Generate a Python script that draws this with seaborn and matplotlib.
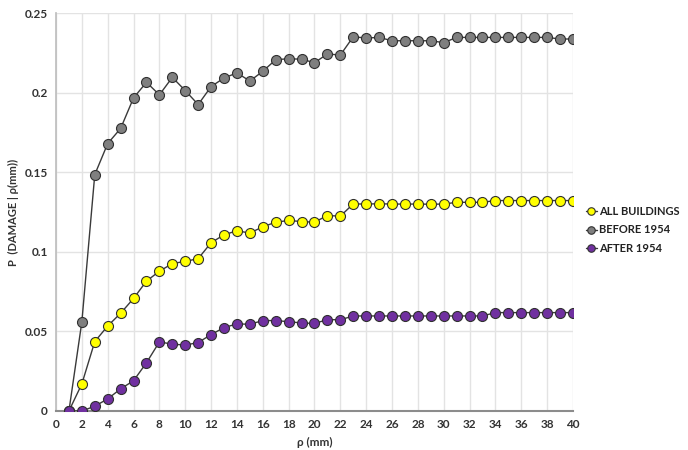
import numpy as np
import pandas as pd
import matplotlib
matplotlib.use("Agg")
import matplotlib.pyplot as plt
import seaborn as sns

rho = list(range(1, 41))
all_buildings = [0.0, 0.017, 0.0436, 0.0534, 0.0614, 0.0707, 0.0816, 0.0878, 0.0926, 0.094,
                 0.0957, 0.1057, 0.1107, 0.1132, 0.1118, 0.1157, 0.1186, 0.1197, 0.119, 0.1186,
                 0.1228, 0.1224, 0.1301, 0.130, 0.1302, 0.130, 0.130, 0.130, 0.1299, 0.130,
                 0.1311, 0.1311, 0.1311, 0.1322, 0.1322, 0.1322, 0.1322, 0.1322, 0.1322, 0.1322]
before_1954 = [0.0, 0.056, 0.1485, 0.168, 0.1775, 0.1967, 0.2065, 0.1986, 0.2096, 0.2013,
               0.1925, 0.2038, 0.2092, 0.2124, 0.2073, 0.2134, 0.2207, 0.2213, 0.221, 0.2188,
               0.2243, 0.2236, 0.2351, 0.2343, 0.2347, 0.2326, 0.2326, 0.2326, 0.2326, 0.2314,
               0.2347, 0.2347, 0.2347, 0.2347, 0.2347, 0.2347, 0.2347, 0.2347, 0.2337, 0.2337]
after_1954 = [0.0, 0.0, 0.003, 0.0076, 0.0139, 0.019, 0.0303, 0.0434, 0.042, 0.0414,
              0.043, 0.048, 0.0524, 0.0547, 0.0545, 0.0568, 0.0568, 0.0561, 0.0553, 0.055,
              0.0574, 0.0573, 0.0597, 0.0597, 0.0597, 0.0597, 0.0597, 0.0597, 0.0597, 0.0597,
              0.0597, 0.0597, 0.0597, 0.0618, 0.0618, 0.0618, 0.0618, 0.0618, 0.0618, 0.0618]
series_names = ["ALL BUILDINGS", "BEFORE 1954", "AFTER 1954"]
series_colors = ["#FFFF00", "#7F7F7F", "#7030A0"]
x_ticks = list(range(0, 41, 2))
y_ticks = [0, 0.05, 0.1, 0.15, 0.2, 0.25]
y_tick_labels = ["0", "0.05", "0.1", "0.15", "0.2", "0.25"]

sns.set_theme(style="white")
plt.rcParams['font.family'] = ['Lato', 'DejaVu Sans']

fig = plt.figure(figsize=(6.88, 4.5), dpi=100)
ax = fig.add_axes([0.0814, 0.0867, 0.8328 - 0.0814, 0.971 - 0.0867])

data = {"ALL BUILDINGS": all_buildings, "BEFORE 1954": before_1954, "AFTER 1954": after_1954}
for name, col in zip(series_names, series_colors):
    df = pd.DataFrame({"rho": rho, "p": data[name]})
    sns.lineplot(data=df, x="rho", y="p", ax=ax, color="#3a3a3a", linewidth=1.0,
                 marker="o", markersize=7.2, markerfacecolor=col,
                 markeredgecolor="#303030", markeredgewidth=0.8, label=name, zorder=3)

ax.set_xlim(0, 40)
ax.set_ylim(0, 0.25)
ax.set_xticks(x_ticks)
ax.set_yticks(y_ticks)
ax.set_yticklabels(y_tick_labels)
ax.grid(True, color="#e3e3e3", linewidth=1.0)
ax.set_axisbelow(True)
for s in ["top", "right"]:
    ax.spines[s].set_visible(False)
ax.spines["left"].set_color("#bfbfbf")
ax.spines["bottom"].set_color("#8c8c8c")
ax.spines["bottom"].set_linewidth(1.5)
ax.tick_params(axis="both", length=0, labelsize=8.5, colors="#333333", pad=6)
for lab in ax.get_xticklabels() + ax.get_yticklabels():
    lab.set_fontweight("bold")

ax.set_xlabel("ρ (mm)", fontsize=8.5, fontweight="bold", color="#333333", labelpad=5)
ax.set_ylabel("P  (DAMAGE | ρ(mm))", fontsize=8, fontweight="bold", color="#333333", labelpad=4)

leg = ax.legend(loc="center left", bbox_to_anchor=(1.025, 0.455), frameon=False,
                prop={"weight": "bold", "size": 8}, handlelength=1.0, markerscale=0.75,
                handletextpad=0.15, labelspacing=0.7, borderaxespad=0, borderpad=0)
for t in leg.get_texts():
    t.set_color("#222222")

fig.savefig("out.png", dpi=100)
